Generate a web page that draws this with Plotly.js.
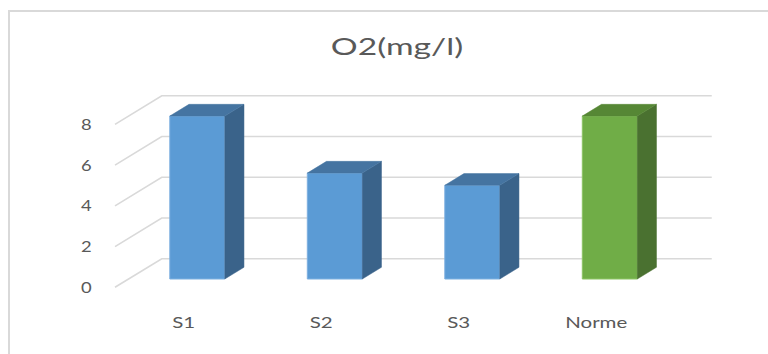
<!DOCTYPE html>
<html>
<head>
<meta charset="utf-8">
<script src="https://cdn.plot.ly/plotly-3.0.1.min.js"></script>
<style>
  html, body { margin: 0; padding: 0; overflow: hidden; background: #ffffff; }
  #chart { position: absolute; left: 0; top: 0; width: 768px; height: 354px; }
  #frame { position: absolute; left: 8px; top: 10px; width: 800px; height: 400px;
           border: 2px solid #d9d9d9; pointer-events: none; }
  /* wide, Calibri-like lettering */
  #chart .g-gtitle { transform-box: fill-box; transform-origin: center; transform: scaleX(1.4); }
  #chart .xtick    { transform-box: fill-box; transform-origin: center; transform: scaleX(1.28); }
  #chart .ytick    { transform-box: fill-box; transform-origin: center; transform: scaleX(1.15); }
</style>
</head>
<body>
<div id="chart"></div>
<div id="frame"></div>
<script>
// ---- data ----
const categories = ['S1', 'S2', 'S3', 'Norme'];
const o2Values = [8.0, 5.2, 4.6, 8.0];
const yTickValues = [0, 2, 4, 6, 8];
const yTickLabels = ['0', '2', '4', '6', '8'];

// ---- styling ----
const FONT = 'Lato, "Open Sans", sans-serif';
const TEXT_COLOR = '#595959';
const GRID_COLOR = '#d9d9d9';
const palettes = {
  blue:  { front: '#5b9bd5', side: '#3a638a', top: '#4574a1', edge: '#7db0e0' },
  green: { front: '#70ad47', side: '#4a7130', top: '#568735', edge: '#8cc465' }
};
const barPalette = ['blue', 'blue', 'blue', 'green'];

// ---- oblique projection of the 3-D column box ----
// z = 0 is the front (label) plane, z = 1 the back wall
const DEPTH_X = 0.34, DEPTH_Y = 1.404;
const BAR_FRONT = 0.29, BAR_BACK = 0.70, BAR_HALF = 0.2;
const WALL_LEFT = -0.5, WALL_RIGHT = 3.5;
const proj = (x, y, z) => [x + z * DEPTH_X, y + z * DEPTH_Y];

const X_RANGE = [-0.53636, 3.9];
const Y_RANGE = [-0.6235, 10.177];

const traces = [];

// side wall diagonals + back wall gridlines
const gx = [], gy = [];
yTickValues.forEach(v => {
  const a = proj(WALL_LEFT, v, 0), b = proj(WALL_LEFT, v, 1), c = proj(WALL_RIGHT, v, 1);
  gx.push(a[0], b[0], c[0], null);
  gy.push(a[1], b[1], c[1], null);
});
traces.push({
  type: 'scatter', mode: 'lines', x: gx, y: gy, xaxis: 'x', yaxis: 'y',
  line: { color: GRID_COLOR, width: 1.6 }, hoverinfo: 'skip', showlegend: false
});

// front faces of the columns
const idx = categories.map((_, i) => i);
traces.push({
  type: 'bar', xaxis: 'x2', yaxis: 'y2',
  x: idx.map(i => proj(i, 0, BAR_FRONT)[0]),
  y: o2Values,
  base: proj(0, 0, BAR_FRONT)[1],
  width: BAR_HALF * 2,
  marker: {
    color: barPalette.map(p => palettes[p].front),
    line: { color: barPalette.map(p => palettes[p].edge), width: 1 }
  },
  hoverinfo: 'skip', showlegend: false
});

// right side and top faces
function polygon(pts, color) {
  return {
    type: 'scatter', mode: 'lines', xaxis: 'x2', yaxis: 'y2',
    x: pts.map(p => p[0]).concat(pts[0][0]),
    y: pts.map(p => p[1]).concat(pts[0][1]),
    fill: 'toself', fillcolor: color,
    line: { color: color, width: 0.5 },
    hoverinfo: 'skip', showlegend: false
  };
}
o2Values.forEach((v, i) => {
  const pal = palettes[barPalette[i]];
  const l = i - BAR_HALF, r = i + BAR_HALF;
  traces.push(polygon([proj(r, 0, BAR_FRONT), proj(r, 0, BAR_BACK),
                       proj(r, v, BAR_BACK), proj(r, v, BAR_FRONT)], pal.side));
  traces.push(polygon([proj(l, v, BAR_FRONT), proj(r, v, BAR_FRONT),
                       proj(r, v, BAR_BACK), proj(l, v, BAR_BACK)], pal.top));
});

const hiddenAxis = { visible: false, fixedrange: true, showgrid: false, zeroline: false };

const layout = {
  width: 768, height: 354,
  margin: { l: 110, r: 48, t: 80, b: 54 },
  paper_bgcolor: '#ffffff', plot_bgcolor: 'rgba(0,0,0,0)',
  showlegend: false,
  title: {
    text: 'O2(mg/l)',
    font: { family: FONT, size: 24, color: TEXT_COLOR },
    xref: 'container', x: 397 / 768, xanchor: 'center',
    yref: 'container', y: 1 - 47 / 354, yanchor: 'middle'
  },
  xaxis: {
    range: X_RANGE, fixedrange: true,
    tickvals: idx, ticktext: categories,
    showgrid: false, zeroline: false, showline: false, ticks: '',
    tickfont: { family: FONT, size: 16, color: TEXT_COLOR },
    ticklabelstandoff: 11
  },
  yaxis: {
    range: Y_RANGE, fixedrange: true,
    tickvals: yTickValues, ticktext: yTickLabels,
    showgrid: false, zeroline: false, showline: false, ticks: '',
    tickfont: { family: FONT, size: 16, color: TEXT_COLOR },
    ticklabelstandoff: 18
  },
  xaxis2: Object.assign({ overlaying: 'x', range: X_RANGE }, hiddenAxis),
  yaxis2: Object.assign({ overlaying: 'y', range: Y_RANGE }, hiddenAxis)
};

Plotly.newPlot('chart', traces, layout, { staticPlot: true, displayModeBar: false });
</script>
</body>
</html>
